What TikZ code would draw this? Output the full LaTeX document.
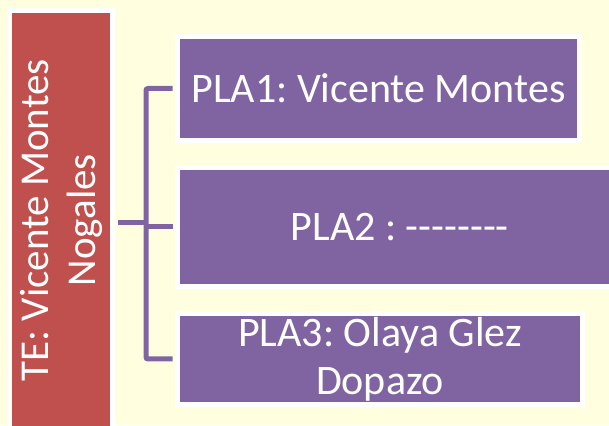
\documentclass[tikz,border=0pt]{standalone}
\usepackage{fontspec}
\setmainfont{Carlito}
\frenchspacing
\definecolor{bgyellow}{HTML}{FFFFE0}
\definecolor{tered}{HTML}{C0504D}
\definecolor{plapurple}{HTML}{8064A2}
\newcommand{\hy}{\mbox{-}}
\tikzset{
  redbox/.style={rectangle, fill=tered, draw=white, line width=5pt, text=white, inner sep=0pt},
  plabox/.style={rectangle, fill=plapurple, draw=white, line width=5pt, text=white, align=center, inner sep=0pt,
     font=\fontsize{42}{48}\selectfont},
  conn/.style={draw=plapurple, line width=5pt}
}
\begin{document}
\begin{tikzpicture}[x=1pt,y=1pt]
\useasboundingbox (0,0) rectangle (609,425);
\fill[bgyellow] (0,0) rectangle (609,425);
\coordinate (jb) at (146,66);
\coordinate (jc) at (146,198);
\coordinate (jl) at (146,202);
\node[redbox, minimum width=103pt, minimum height=419.5pt] (te) at (61,204.75)
  {\rotatebox{90}{\parbox{400pt}{\centering\fontsize{41}{47}\selectfont TE: Vicente Montes\\Nogales}}};
\node[plabox, minimum width=402pt, minimum height=104pt] (p1) at (378.5,336.5) {PLA1: Vicente Montes};
\node[plabox, minimum width=444.5pt, minimum height=119pt] (p2) at (399.75,198) {PLA2 : \hy\hy\hy\hy\hy\hy\hy\hy};
\node[plabox, minimum width=405pt, minimum height=91pt] (p3) at (380,66) {PLA3: Olaya Glez\\Dopazo};
\draw[conn, rounded corners=2pt, shorten <=2.5pt, shorten >=2.5pt] (p1.west) -| (jb) -- (p3.west);
\draw[conn, shorten >=2.5pt] (jc) -- (p2.west);
\draw[conn, shorten <=2.5pt] (te.east |- jl) -- (jl);
\end{tikzpicture}
\end{document}
